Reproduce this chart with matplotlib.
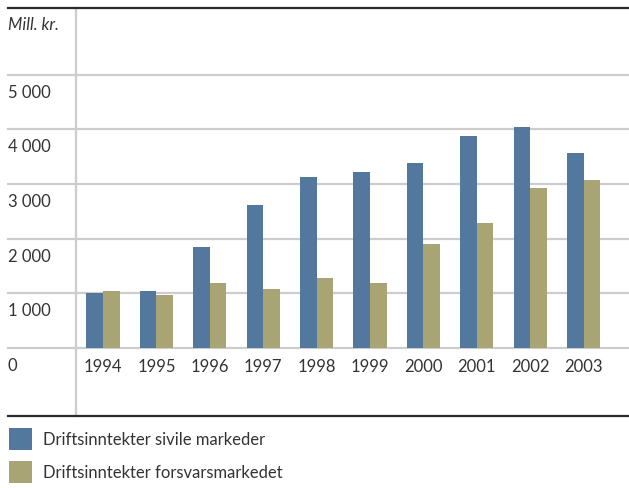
import matplotlib
matplotlib.use("Agg")
import matplotlib.pyplot as plt
import matplotlib.transforms as mtransforms
import numpy as np

plt.rcParams['font.family'] = ['Lato', 'DejaVu Sans']

years = ["1994", "1995", "1996", "1997", "1998", "1999", "2000", "2001", "2002", "2003"]
civil = [1000, 1035, 1845, 2615, 3130, 3220, 3385, 3880, 4045, 3570]
defence = [1035, 960, 1180, 1070, 1275, 1185, 1900, 2285, 2925, 3075]
series_names = ["Driftsinntekter sivile markeder", "Driftsinntekter forsvarsmarkedet"]
y_ticks = [0, 1000, 2000, 3000, 4000, 5000]
y_tick_labels = ["0", "1 000", "2 000", "3 000", "4 000", "5 000"]
unit_label = "Mill. kr."

BLUE = "#53789E"
TAN = "#A9A474"
GRID = "#CDCDCF"
TEXT = "#333333"
DARK = "#2B2B2B"
FS = 12

W, H = 629, 488
fig = plt.figure(figsize=(W / 100, H / 100), dpi=100)

# plot area: from the vertical rule at x=76 to the right edge, between the two dark rules
ax_left, ax_right, ax_top, ax_bottom = 76, 629, 8, 416.3
ax = fig.add_axes([ax_left / W, 1 - ax_bottom / H, (ax_right - ax_left) / W, (ax_bottom - ax_top) / H])
ax.set_ylim(-1262, 6229)
ax.set_xlim(-0.506, 9.85)

x = np.arange(len(years))
bw = 0.31
b1 = ax.bar(x - bw / 2, civil, width=bw, color=BLUE, label=series_names[0], zorder=3)
b2 = ax.bar(x + bw / 2, defence, width=bw, color=TAN, label=series_names[1], zorder=3)

for s in ax.spines.values():
    s.set_visible(False)
ax.spines['left'].set_visible(True)
ax.spines['left'].set_color(GRID)
ax.spines['left'].set_linewidth(1.6)
# year labels hang from the zero line
ax.spines['bottom'].set_position(('data', 0))

# horizontal rules reaching out to the left margin
ext = (8 - ax_left) / (ax_right - ax_left)
for v in y_ticks:
    ax.axhline(v, xmin=ext, xmax=1, color=GRID, lw=1.6, clip_on=False, zorder=1)
ax.axhline(ax.get_ylim()[1], xmin=ext, xmax=1, color=DARK, lw=1.6, clip_on=False, zorder=4)
ax.axhline(ax.get_ylim()[0], xmin=ext, xmax=1, color=DARK, lw=1.6, clip_on=False, zorder=4)

ax.set_yticks([])
ax.set_xticks(x)
ax.set_xticklabels(years, fontsize=FS, color=TEXT)
ax.tick_params(axis='x', length=0, pad=8.5)

# value labels sit just below their rule, left-aligned at the margin
trans = mtransforms.blended_transform_factory(fig.transFigure, ax.transData)
trans = mtransforms.offset_copy(trans, fig=fig, x=0, y=-18, units='dots')
for v, lab in zip(y_ticks, y_tick_labels):
    ax.text(8 / W, v, lab, transform=trans, ha='left', va='center', fontsize=FS, color=TEXT)

fig.text(8 / W, 1 - 25 / H, unit_label, ha='left', va='center', fontsize=FS,
         style='italic', color=TEXT)

leg = fig.legend(handles=[b1, b2], loc='upper left', bbox_to_anchor=(4 / W, 1 - 423 / H),
                 frameon=False, fontsize=FS, handlelength=1.38, handleheight=1.67,
                 handletextpad=0.66, labelspacing=0.66, borderaxespad=0, borderpad=0.3)
for t in leg.get_texts():
    t.set_color(TEXT)

fig.savefig("out.png", dpi=100)
